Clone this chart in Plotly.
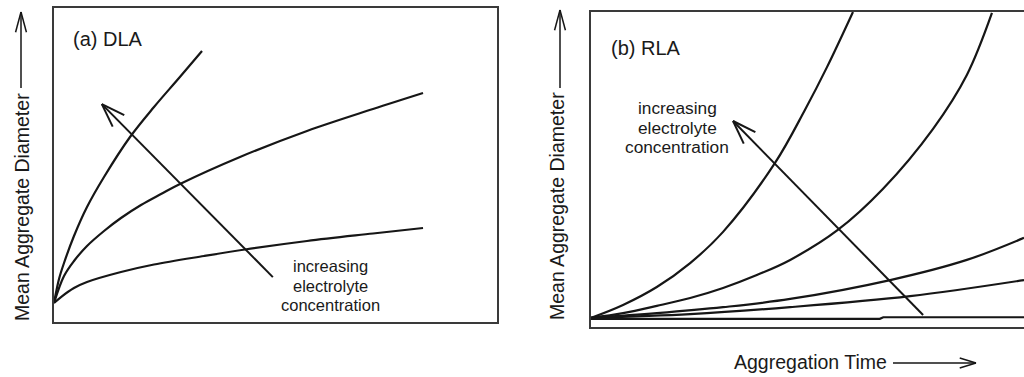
import math
import plotly.graph_objects as go

# ---------------- data (arbitrary units 0-100) ----------------
# Panel (a) DLA: aggregation time vs mean aggregate diameter
dla_low_x = [0, 1.58, 4.51, 7.45, 15.12, 22.57, 33.86, 43.12, 57.11, 72.01, 83.3]
dla_low_y = [6.05, 7.96, 10.83, 12.74, 15.92, 18.31, 21.02, 23.09, 25.8, 28.18, 29.94]

dla_mid_x = [0, 2.26, 4.51, 7.45, 11.29, 15.12, 19.64, 24.15, 28.44, 41.99, 57.11, 72.01, 83.3]
dla_mid_y = [6.05, 14.65, 19.43, 24.2, 28.98, 33.12, 37.26, 40.76, 43.95, 52.55, 60.83, 67.83, 72.93]

dla_high_x = [0, 1.13, 2.26, 4.51, 7.45, 11.29, 17.16, 22.57, 28.22, 33.41]
dla_high_y = [6.05, 13.69, 18.79, 27.39, 36.62, 46.18, 58.92, 68.47, 77.71, 86.31]

# Panel (b) RLA
rla_1_x = [0, 7.4, 15.2, 22.9, 30.5, 42.5, 49.4, 54.5, 60.5]
rla_1_y = [2.9, 7.0, 12.7, 20.3, 30.2, 52.1, 68.9, 82.5, 100.0]

rla_2_x = [0, 7.4, 15.2, 22.9, 30.5, 38.3, 46.0, 57.0, 67.4, 79.0, 86.8, 92.6]
rla_2_y = [2.9, 4.4, 6.7, 9.2, 12.4, 16.5, 21.3, 30.8, 43.8, 62.9, 80.0, 99.7]

rla_3_x = [0, 15.2, 30.5, 46.0, 69.1, 86.8, 100]
rla_3_y = [2.9, 4.4, 6.3, 8.9, 14.9, 21.3, 28.3]

rla_4_x = [0, 22.9, 46.0, 73.7, 100]
rla_4_y = [2.9, 4.1, 6.3, 9.8, 14.9]

rla_5_x = [0, 66.7, 67.5, 100]
rla_5_y = [2.6, 2.6, 3.1, 3.1]

# arrows inside panels (tail -> tip), data units
dla_arrow = [(49.4, 14.3), (10.8, 69.4)]
rla_arrow = [(76.7, 3.8), (32.8, 65.4)]

label_lines = ["increasing", "electrolyte", "concentration"]
y_title = "Mean Aggregate Diameter"
x_title = "Aggregation Time"

# ---------------- layout geometry ----------------
W, H = 1024, 377
A_X0, A_X1, A_Y0, A_Y1 = 54, 497, 322, 8      # pixel box of panel a (left,right,bottom,top)
B_X0, B_X1, B_Y0, B_Y1 = 591, 1024, 327, 12   # panel b

INK = "#161616"
FONT = "Liberation Sans, Arial, sans-serif"


def a_px(x, y):
    return A_X0 + x / 100 * (A_X1 - A_X0), A_Y0 - y / 100 * (A_Y0 - A_Y1)


def b_px(x, y):
    return B_X0 + x / 100 * (B_X1 - B_X0), B_Y0 - y / 100 * (B_Y0 - B_Y1)


def paper(px, py):
    return px / W, 1 - py / H


shapes = []


def seg(p, q, width=2):
    x0, y0 = paper(*p)
    x1, y1 = paper(*q)
    shapes.append(dict(type="line", xref="paper", yref="paper", x0=x0, y0=y0,
                       x1=x1, y1=y1, line=dict(color=INK, width=width)))


def arrow(tail, tip, head=25, ang=19, width=2):
    seg(tail, tip, width)
    dx, dy = tail[0] - tip[0], tail[1] - tip[1]
    L = math.hypot(dx, dy)
    ux, uy = dx / L, dy / L
    for s in (-1, 1):
        a = math.radians(ang * s)
        bx = ux * math.cos(a) - uy * math.sin(a)
        by = ux * math.sin(a) + uy * math.cos(a)
        seg(tip, (tip[0] + bx * head, tip[1] + by * head), width)


fig = go.Figure()
line = dict(color=INK, width=2.2, shape="spline", smoothing=1.0)
for xs, ys in [(dla_low_x, dla_low_y), (dla_mid_x, dla_mid_y), (dla_high_x, dla_high_y)]:
    fig.add_trace(go.Scatter(x=xs, y=ys, mode="lines", line=line, xaxis="x", yaxis="y",
                             hoverinfo="skip"))
for xs, ys in [(rla_1_x, rla_1_y), (rla_2_x, rla_2_y), (rla_3_x, rla_3_y),
               (rla_4_x, rla_4_y)]:
    fig.add_trace(go.Scatter(x=xs, y=ys, mode="lines", line=line, xaxis="x2", yaxis="y2",
                             hoverinfo="skip"))
fig.add_trace(go.Scatter(x=rla_5_x, y=rla_5_y, mode="lines",
                         line=dict(color=INK, width=2.2, shape="linear"),
                         xaxis="x2", yaxis="y2", hoverinfo="skip"))

# in-panel arrows
arrow(a_px(*dla_arrow[0]), a_px(*dla_arrow[1]))
arrow(b_px(*rla_arrow[0]), b_px(*rla_arrow[1]))
# axis-title arrows
arrow((21, 88), (21, 12), head=21, ang=15, width=1.5)
arrow((560, 88), (560, 10), head=21, ang=15, width=1.5)
arrow((893, 363), (976, 363), head=17, ang=17, width=1.5)

box_line = dict(showline=True, linecolor="#3a3a3a", linewidth=1.8, showgrid=False,
                zeroline=False, showticklabels=False, ticks="", fixedrange=True)
fig.update_layout(
    width=W, height=H, margin=dict(l=0, r=0, t=0, b=0),
    paper_bgcolor="white", plot_bgcolor="white", showlegend=False,
    hovermode=False,
    xaxis=dict(domain=[A_X0 / W, A_X1 / W], range=[0, 100], anchor="y", mirror=True, **box_line),
    yaxis=dict(domain=[1 - A_Y0 / H, 1 - A_Y1 / H], range=[0, 100], anchor="x", mirror=True, **box_line),
    xaxis2=dict(domain=[B_X0 / W, 1], range=[0, 100], anchor="y2", mirror=True, **box_line),
    yaxis2=dict(domain=[1 - B_Y0 / H, 1 - B_Y1 / H], range=[0, 100], anchor="x2", mirror=False, **box_line),
    shapes=shapes,
)

ann = []


def text(t, px, py, size, xanchor="center", angle=0):
    x, y = paper(px, py)
    ann.append(dict(text=t, x=x, y=y, xref="paper", yref="paper", showarrow=False,
                    xanchor=xanchor, yanchor="middle", textangle=angle,
                    font=dict(family=FONT, size=size, color="#1a1a1a")))


text("(a) DLA", 71, 39, 20, xanchor="left")
text("(b) RLA", 609, 48, 20, xanchor="left")
for i, t in enumerate(label_lines):
    text(t, 330, 266 + i * 19.5, 16.5)
    text(t, 677, 108 + i * 19.5, 17.3)
text(y_title, 22, 207, 19.5, angle=-90)
text(y_title, 557, 206, 19.5, angle=-90)
text(x_title, 810, 362, 19.5)
fig.update_layout(annotations=ann)

fig.write_html("out.html", config={"displayModeBar": False, "staticPlot": True},
               post_script="document.body.style.margin='0px';document.body.style.overflow='hidden';")
